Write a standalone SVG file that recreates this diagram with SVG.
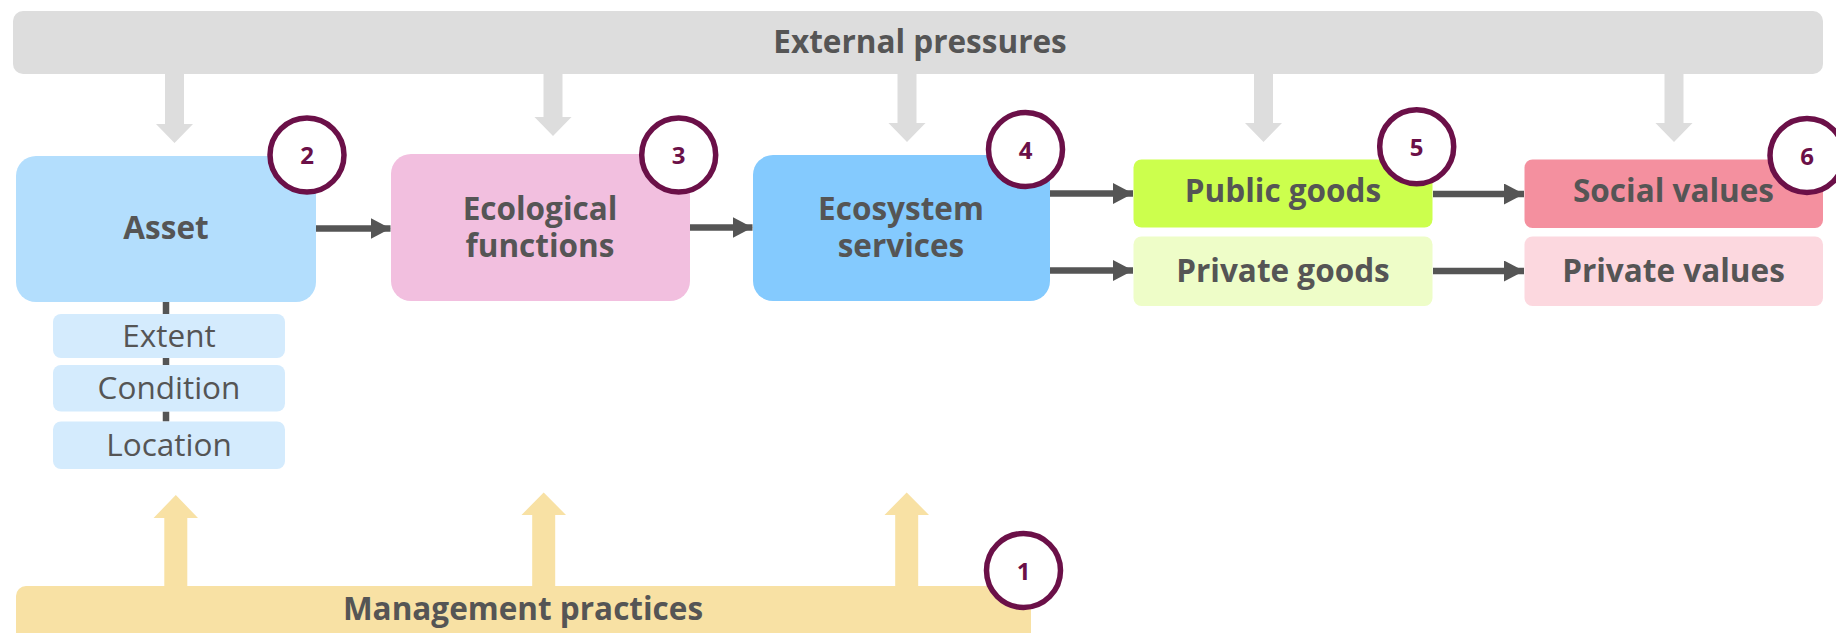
<svg xmlns="http://www.w3.org/2000/svg" width="1836" height="633" viewBox="0 0 1836 633">
<style>
.lbl{font-family:"Open Sans","Liberation Sans",sans-serif;font-weight:700;font-size:31.5px;fill:#555555;text-anchor:middle}
.sub{font-family:"Open Sans","Liberation Sans",sans-serif;font-weight:400;font-size:31.5px;fill:#555555;text-anchor:middle}
.num{font-family:"Open Sans","Liberation Sans",sans-serif;font-weight:700;font-size:24px;fill:#6B1048;text-anchor:middle}
.badge{fill:#FFFFFF;stroke:#6B1048;stroke-width:5.5}
.conn{stroke:#555555;stroke-width:6.5;fill:none}
.gray{fill:#DDDDDD}
.yel{fill:#F8E1A4}
</style>
<defs>
<marker id="ah" markerUnits="userSpaceOnUse" markerWidth="20" markerHeight="21" refX="20" refY="10.5" orient="auto">
<path d="M0,0 L20,10.5 L0,21 Z" fill="#555555"/>
</marker>
</defs>

<g id="external-pressures">
<rect class="gray" x="13" y="11" width="1810" height="63" rx="10"/>
<text class="lbl" x="920" y="53">External pressures</text>
</g>

<g id="pressure-arrows">
<polygon class="gray" points="165,74 184,74 184,124 193,124 174.5,143 156,124 165,124"/>
<polygon class="gray" points="543.5,74 562.5,74 562.5,117 571.5,117 553,136 534.5,117 543.5,117"/>
<polygon class="gray" points="897.5,74 916.5,74 916.5,123 925.5,123 907,142 888.5,123 897.5,123"/>
<polygon class="gray" points="1254,74 1273,74 1273,123 1282,123 1263.5,142 1245,123 1254,123"/>
<polygon class="gray" points="1664.5,74 1683.5,74 1683.5,123 1692.5,123 1674,142 1655.5,123 1664.5,123"/>
</g>

<g id="management-practices">
<rect class="yel" x="16" y="586" width="1015" height="70" rx="10"/>
<text class="lbl" x="523" y="620">Management practices</text>
</g>

<g id="management-arrows">
<polygon class="yel" points="164.3,586 187.3,586 187.3,518 198,518 175.8,495 153.6,518 164.3,518"/>
<polygon class="yel" points="532.2,586 555.2,586 555.2,515 566,515 543.7,492.5 521.5,515 532.2,515"/>
<polygon class="yel" points="895.2,586 918.2,586 918.2,515 929,515 906.7,492.5 884.5,515 895.2,515"/>
</g>

<g id="connectors">
<line class="conn" x1="166" y1="302" x2="166" y2="314"/>
<line class="conn" x1="166" y1="358" x2="166" y2="365"/>
<line class="conn" x1="166" y1="411.5" x2="166" y2="421.5"/>
<line class="conn" x1="316" y1="228.5" x2="390.5" y2="228.5" marker-end="url(#ah)"/>
<line class="conn" x1="690" y1="227.5" x2="752.5" y2="227.5" marker-end="url(#ah)"/>
<line class="conn" x1="1050" y1="193.5" x2="1133" y2="193.5" marker-end="url(#ah)"/>
<line class="conn" x1="1050" y1="270.5" x2="1133" y2="270.5" marker-end="url(#ah)"/>
<line class="conn" x1="1433" y1="194" x2="1524" y2="194" marker-end="url(#ah)"/>
<line class="conn" x1="1433" y1="271" x2="1524" y2="271" marker-end="url(#ah)"/>
</g>

<g id="asset">
<rect x="16" y="156" width="300" height="146" rx="20" fill="#B3DEFD"/>
<text class="lbl" x="166" y="239">Asset</text>
</g>
<g id="extent">
<rect x="53" y="314" width="232" height="44" rx="8" fill="#D4EBFD"/>
<text class="sub" x="169" y="347">Extent</text>
</g>
<g id="condition">
<rect x="53" y="365" width="232" height="46.5" rx="8" fill="#D4EBFD"/>
<text class="sub" x="169" y="399">Condition</text>
</g>
<g id="location">
<rect x="53" y="421.5" width="232" height="47.5" rx="8" fill="#D4EBFD"/>
<text class="sub" x="169" y="456">Location</text>
</g>

<g id="ecological-functions">
<rect x="391" y="154" width="299" height="147" rx="20" fill="#F2BFDF"/>
<text class="lbl" x="540" y="220"><tspan x="540" y="220">Ecological</tspan><tspan x="540" y="257">functions</tspan></text>
</g>

<g id="ecosystem-services">
<rect x="753" y="155" width="297" height="146" rx="20" fill="#84CAFE"/>
<text class="lbl" x="901" y="220"><tspan x="901" y="220">Ecosystem</tspan><tspan x="901" y="257">services</tspan></text>
</g>

<g id="public-goods">
<rect x="1133.5" y="159.5" width="299" height="68" rx="8" fill="#CCFF4D"/>
<text class="lbl" x="1283" y="202">Public goods</text>
</g>
<g id="private-goods">
<rect x="1133.5" y="236.5" width="299" height="69.5" rx="8" fill="#EEFDC8"/>
<text class="lbl" x="1283" y="282">Private goods</text>
</g>
<g id="social-values">
<rect x="1524.5" y="159.5" width="298.5" height="68.5" rx="8" fill="#F4909F"/>
<text class="lbl" x="1673.5" y="202">Social values</text>
</g>
<g id="private-values">
<rect x="1524.5" y="236.5" width="298.5" height="69.5" rx="8" fill="#FCD8DF"/>
<text class="lbl" x="1673.5" y="282">Private values</text>
</g>

<g id="badge-1"><circle class="badge" cx="1023.5" cy="570.5" r="37"/><text class="num" x="1023.5" y="579.5">1</text></g>
<g id="badge-2"><circle class="badge" cx="307" cy="155" r="37"/><text class="num" x="307" y="164">2</text></g>
<g id="badge-3"><circle class="badge" cx="678.7" cy="155" r="37"/><text class="num" x="678.7" y="164">3</text></g>
<g id="badge-4"><circle class="badge" cx="1025.5" cy="149.5" r="37"/><text class="num" x="1025.5" y="158.5">4</text></g>
<g id="badge-5"><circle class="badge" cx="1416.7" cy="146.7" r="37"/><text class="num" x="1416.7" y="155.7">5</text></g>
<g id="badge-6"><circle class="badge" cx="1807" cy="155.5" r="37"/><text class="num" x="1807" y="164.5">6</text></g>
</svg>
